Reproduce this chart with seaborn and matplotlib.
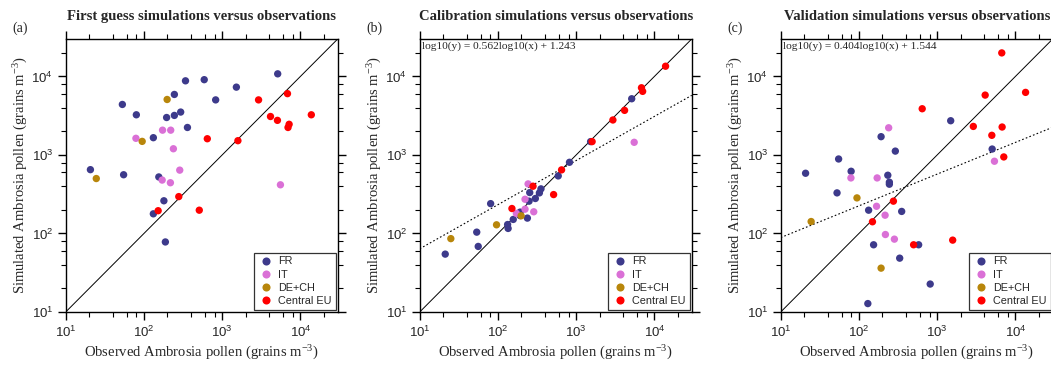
import numpy as np
import pandas as pd
import matplotlib
matplotlib.use("Agg")
import matplotlib.pyplot as plt
import matplotlib.ticker as mticker
import seaborn as sns

# ---------------------------------------------------------
# DATA
# ---------------------------------------------------------
groups = ["FR", "IT", "DE+CH", "Central EU"]
colors = ["#3d3a8b", "#da70d6", "#b8860b", "#ff0000"]

# (a) first guess
a_fr_obs = [20.7, 55, 53, 80, 132, 155, 132, 180, 188, 195, 245, 245, 295, 340, 360, 590, 826, 1520, 5130]
a_fr_sim = [650, 560, 4400, 3250, 1660, 525, 178, 261, 78, 3000, 5900, 3190, 3520, 8800, 2240, 9100, 5030, 7310, 10800]
a_it_obs = [79, 173, 220, 238, 287, 171, 218, 5560]
a_it_sim = [1630, 2070, 2070, 1200, 641, 479, 443, 417]
a_de_obs = [24.6, 95, 198]
a_de_sim = [501, 1490, 5090]
a_eu_obs = [152, 279, 510, 646, 1590, 2920, 4150, 5090, 6840, 6950, 7180, 13800]
a_eu_sim = [195, 295, 198, 1610, 1520, 5030, 3090, 2760, 6040, 2240, 2460, 3250]

# (b) calibration
b_fr_obs = [21.2, 53.6, 56, 80.7, 133, 135, 157, 192, 192, 238, 250, 255, 301, 339, 355, 590, 822, 1530, 5130]
b_fr_sim = [54.6, 104, 68.4, 240, 130, 116, 151, 187, 169, 157, 258, 332, 279, 329, 370, 541, 807, 1480, 5200]
b_it_obs = [243, 222, 222, 287, 172, 5520]
b_it_sim = [428, 273, 204, 189, 180, 1450]
b_de_obs = [25, 96, 198]
b_de_sim = [86, 129, 168]
b_eu_obs = [151, 281, 515, 651, 1600, 2950, 4160, 6840, 7080, 13900]
b_eu_sim = [208, 400, 313, 646, 1480, 2790, 3700, 7180, 6460, 13500]

# (c) validation
c_fr_obs = [20.8, 52.5, 55, 79.5, 130, 133, 154, 192, 234, 245, 245, 292, 332, 352, 580, 815, 1490, 5050]
c_fr_sim = [585, 329, 889, 620, 12.8, 198, 71.8, 1710, 552, 450, 424, 1120, 48.5, 191, 71.8, 22.7, 2730, 1190]
c_it_obs = [79, 168, 171, 216, 218, 240, 284, 5400]
c_it_sim = [510, 222, 510, 171, 97, 2220, 84.7, 832]
c_de_obs = [24.5, 94.4, 192]
c_de_sim = [142, 284, 36.2]
c_eu_obs = [149, 276, 500, 644, 1580, 2900, 4110, 5000, 6700, 6770, 7110, 13500]
c_eu_sim = [141, 258, 71.8, 3880, 82.3, 2310, 5790, 1780, 19950, 2270, 944, 6270]

titles = ["First guess simulations versus observations",
          "Calibration simulations versus observations",
          "Validation simulations versus observations"]
panel_tags = ["(a)", "(b)", "(c)"]
fits = [None, (0.562, 1.243), (0.404, 1.544)]

# ---------------------------------------------------------
# STYLE
# ---------------------------------------------------------
sns.set_theme(style="ticks")
plt.rcParams["font.family"] = ["Liberation Sans", "DejaVu Sans"]
plt.rcParams["mathtext.default"] = "regular"
plt.rcParams["axes.linewidth"] = 1.0

def to_frame(fr, it, de, eu):
    rows = []
    for g, (o, s) in zip(groups, [fr, it, de, eu]):
        rows += [{"obs": x, "sim": y, "group": g} for x, y in zip(o, s)]
    return pd.DataFrame(rows)

frames = [
    to_frame((a_fr_obs, a_fr_sim), (a_it_obs, a_it_sim), (a_de_obs, a_de_sim), (a_eu_obs, a_eu_sim)),
    to_frame((b_fr_obs, b_fr_sim), (b_it_obs, b_it_sim), (b_de_obs, b_de_sim), (b_eu_obs, b_eu_sim)),
    to_frame((c_fr_obs, c_fr_sim), (c_it_obs, c_it_sim), (c_de_obs, c_de_sim), (c_eu_obs, c_eu_sim)),
]

W, H = 1051, 365
fig = plt.figure(figsize=(W / 100, H / 100), dpi=100)
lefts = [65.7, 419.7, 780.7]
ax_w, ax_h = 272, 273
bottom = 53
lims = (10, 3e4)
fit_x = np.array(lims)

for i, df in enumerate(frames):
    ax = fig.add_axes([lefts[i] / W, bottom / H, ax_w / W, ax_h / H])
    sns.scatterplot(data=df, x="obs", y="sim", hue="group", hue_order=groups,
                    palette=colors, s=28, linewidth=0, ax=ax, zorder=3)
    ax.set_xscale("log")
    ax.set_yscale("log")
    ax.set_xlim(lims)
    ax.set_ylim(lims)
    ax.plot(lims, lims, color="black", lw=0.7, zorder=2)
    if fits[i] is not None:
        m, c = fits[i]
        ax.plot(fit_x, 10 ** (m * np.log10(fit_x) + c), color="black", lw=0.8,
                ls=(0, (1.5, 2)), zorder=2)
        ax.text(0.008, 0.99, f"log10(y) = {m:.3f}log10(x) + {c:.3f}", transform=ax.transAxes,
                ha="left", va="top", family="Liberation Serif", fontsize=8.2)

    # ticks: majors at decades, minors at 2,4,6,8
    for axis in (ax.xaxis, ax.yaxis):
        axis.set_major_locator(mticker.LogLocator(base=10, numticks=10))
        axis.set_minor_locator(mticker.LogLocator(base=10, subs=(2, 4, 6, 8), numticks=10))
        axis.set_minor_formatter(mticker.NullFormatter())
        axis.set_major_formatter(mticker.FuncFormatter(lambda v, p: f"10$^{{{int(round(np.log10(v)))}}}$"))
    ax.tick_params(which="both", direction="out", top=True, right=True, color="black")
    ax.tick_params(which="major", length=6, width=1.0, labelsize=9.5, pad=3)
    ax.tick_params(which="minor", length=3.5, width=0.8)
    for sp in ax.spines.values():
        sp.set_color("black")

    ax.set_xlabel("Observed Ambrosia pollen (grains m$^{-3}$)", family="Liberation Serif", fontsize=10.5, labelpad=3)
    ax.set_ylabel("Simulated Ambrosia pollen (grains m$^{-3}$)", family="Liberation Serif", fontsize=10.5, labelpad=1)
    ax.set_title(titles[i], family="Liberation Serif", fontweight="bold", fontsize=10.5, pad=14)
    ax.text(-0.197, 1.015, panel_tags[i], transform=ax.transAxes, family="Liberation Serif",
            fontsize=10, ha="left", va="bottom")

    leg = ax.legend(loc="lower right", fontsize=7.8, frameon=True, fancybox=False,
                    borderaxespad=0.2, handletextpad=0.3, borderpad=0.35, labelspacing=0.3,
                    markerscale=1.1, handlelength=1.6)
    leg.get_frame().set_edgecolor("black")
    leg.get_frame().set_linewidth(0.9)
    leg.set_title(None)

fig.savefig("out.png", dpi=100)
